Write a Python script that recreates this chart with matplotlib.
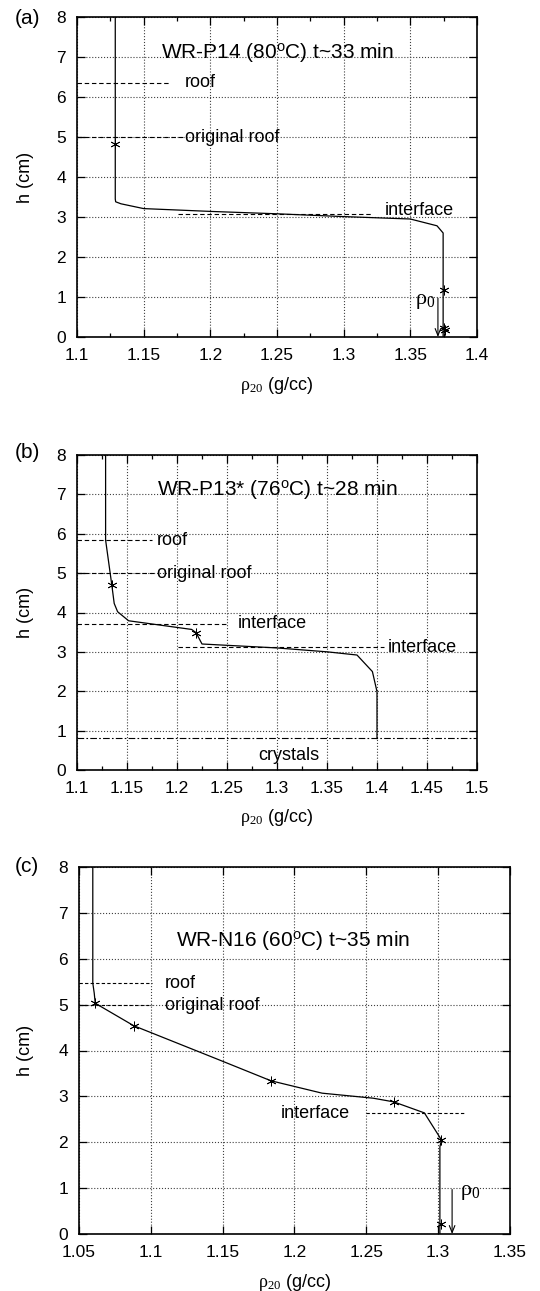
import matplotlib
matplotlib.use("Agg")
import matplotlib.pyplot as plt
from matplotlib.ticker import MultipleLocator

plt.rcParams['font.family'] = ['Liberation Sans', 'DejaVu Sans']
plt.rcParams['mathtext.fontset'] = 'custom'
plt.rcParams['mathtext.rm'] = 'Liberation Serif'
plt.rcParams['mathtext.it'] = 'Liberation Serif:italic'
plt.rcParams['mathtext.sf'] = 'Liberation Sans'

# (a) WR-P14, 80 C, t~33 min
rho_a = [1.1287, 1.1287, 1.129, 1.133, 1.15, 1.2, 1.25, 1.3, 1.35, 1.37, 1.3746, 1.3746]
h_a = [8.0, 3.45, 3.38, 3.33, 3.21, 3.14, 3.08, 3.01, 2.95, 2.78, 2.6, 0.0]
star_rho_a = [1.1287, 1.3754, 1.3752, 1.3758]
star_h_a = [4.82, 1.17, 0.22, 0.17]
roof_a = 6.36
orig_roof_a = 5.0
interface_a = 3.075
rho0_a = 1.3707

# (b) WR-P13*, 76 C, t~28 min
rho_b = [1.1286, 1.1286, 1.1348, 1.1372, 1.1406, 1.1516, 1.2146, 1.219, 1.225,
         1.3, 1.3506, 1.38, 1.3954, 1.4, 1.4]
h_b = [8.0, 5.84, 4.70, 4.23, 4.02, 3.79, 3.57, 3.49, 3.2,
       3.1, 3.0, 2.92, 2.5, 1.99, 0.8]
star_rho_b = [1.1348, 1.219]
star_h_b = [4.70, 3.49]
roof_b = 5.84
orig_roof_b = 5.0
interface1_b = 3.71
interface2_b = 3.12
crystals_b = 0.805

# (c) WR-N16, 60 C, t~35 min
rho_c = [1.0596, 1.0596, 1.0606, 1.0613, 1.0881, 1.148, 1.1836, 1.2192, 1.2548,
         1.2691, 1.2904, 1.3023, 1.3012, 1.3012]
h_c = [8.0, 5.47, 5.25, 5.03, 4.54, 3.79, 3.34, 3.07, 2.96,
       2.88, 2.64, 2.05, 1.9, 0.0]
star_rho_c = [1.0613, 1.0881, 1.1836, 1.2691, 1.3023, 1.302]
star_h_c = [5.03, 4.54, 3.34, 2.88, 2.05, 0.22]
roof_c = 5.47
orig_roof_c = 4.99
interface_c = 2.63
rho0_c = 1.3097

xticks_a = [1.1, 1.15, 1.2, 1.25, 1.3, 1.35, 1.4]
xlabels_a = ['1.1', '1.15', '1.2', '1.25', '1.3', '1.35', '1.4']
xticks_b = [1.1, 1.15, 1.2, 1.25, 1.3, 1.35, 1.4, 1.45, 1.5]
xlabels_b = ['1.1', '1.15', '1.2', '1.25', '1.3', '1.35', '1.4', '1.45', '1.5']
xticks_c = [1.05, 1.1, 1.15, 1.2, 1.25, 1.3, 1.35]
xlabels_c = ['1.05', '1.1', '1.15', '1.2', '1.25', '1.3', '1.35']

STAR = (6, 2, 0)
W, H = 540, 1291


def make_axes(fig, left, top, right, bottom):
    return fig.add_axes([left / W, 1 - bottom / H, (right - left) / W, (bottom - top) / H])


def style_axes(ax, xticks, xlabels, minor, xlab_y, ylab_x):
    ax.set_xlim(xticks[0], xticks[-1])
    ax.set_ylim(0, 8)
    ax.set_xticks(xticks)
    ax.set_xticklabels(xlabels)
    if minor:
        ax.xaxis.set_minor_locator(MultipleLocator(minor))
    ax.set_yticks(range(9))
    ax.tick_params(which='both', direction='in', top=True, right=True,
                   labelsize=12.5, pad=8, width=0.9)
    ax.tick_params(which='major', length=6)
    ax.tick_params(which='minor', length=3)
    ax.set_axisbelow(True)
    ax.grid(which='major', ls=':', color='0.25', lw=0.8)
    for s in ax.spines.values():
        s.set_linewidth(1.2)
    ax.set_xlabel(r'$\mathrm{\rho_{20}}$ (g/cc)', fontsize=13, va='center')
    ax.xaxis.set_label_coords(0.5, xlab_y)
    ax.set_ylabel('h (cm)', fontsize=13, va='center')
    ax.yaxis.set_label_coords(ylab_x, 0.5)


def ref_line(ax, h, x0, x1, **kw):
    ax.plot([x0, x1], [h, h], color='black', lw=0.8, **kw)


def arrow(ax, x, top):
    ax.annotate('', xy=(x, 0), xytext=(x, top),
                arrowprops=dict(arrowstyle='->,head_length=0.5,head_width=0.2',
                                lw=0.8, color='black', shrinkA=0, shrinkB=0))


def stars(ax, x, y):
    ax.plot(x, y, ls='none', marker=STAR, ms=7, mew=0.6, color='black')


fig = plt.figure(figsize=(5.4, 12.91), dpi=100)
dash = dict(dashes=(4, 2.5))

# panel (a)
ax = make_axes(fig, 77, 17, 477, 337)
style_axes(ax, xticks_a, xlabels_a, 0.025, -0.15, -0.1275)
ax.plot(rho_a, h_a, color='black', lw=0.9)
stars(ax, star_rho_a, star_h_a)
ref_line(ax, roof_a, 1.1, 1.170, **dash)
ref_line(ax, orig_roof_a, 1.1, 1.1795, **dash)
ref_line(ax, interface_a, 1.1756, 1.3202, **dash)
ax.text(1.1808, roof_a, 'roof', fontsize=13, va='center')
ax.text(1.1808, orig_roof_a, 'original roof', fontsize=13, va='center')
ax.text(1.3306, interface_a + 0.08, 'interface', fontsize=13, va='center')
arrow(ax, rho0_a, 0.97)
ax.text(1.369, 0.92, r'$\mathrm{\rho_0}$', fontsize=16, va='center', ha='right')
ax.text(1.25, 6.98, r'WR-P14 (80$^{\mathsf{o}}$C) t~33 min', fontsize=15,
        ha='center', va='baseline')
fig.text(15 / W, 1 - 19 / H, '(a)', fontsize=15, va='center')

# panel (b)
ax = make_axes(fig, 77, 455, 477, 770)
style_axes(ax, xticks_b, xlabels_b, 0.025, -0.152, -0.1275)
ax.plot(rho_b, h_b, color='black', lw=0.9)
stars(ax, star_rho_b, star_h_b)
ref_line(ax, roof_b, 1.1, 1.175, **dash)
ref_line(ax, orig_roof_b, 1.1, 1.177, **dash)
ref_line(ax, interface1_b, 1.1, 1.2508, **dash)
ref_line(ax, interface2_b, 1.2009, 1.4074, **dash)
ref_line(ax, crystals_b, 1.1, 1.5, dashes=(6, 2, 1.5, 2))
ax.text(1.18, roof_b, 'roof', fontsize=13, va='center')
ax.text(1.18, orig_roof_b, 'original roof', fontsize=13, va='center')
ax.text(1.261, interface1_b, 'interface', fontsize=13, va='center')
ax.text(1.411, interface2_b, 'interface', fontsize=13, va='center')
ax.text(1.3117, 0.38, 'crystals', fontsize=13, va='center', ha='center')
ax.text(1.3007, 6.98, r'WR-P13* (76$^{\mathsf{o}}$C) t~28 min', fontsize=15,
        ha='center', va='baseline')
fig.text(15 / W, 1 - 452 / H, '(b)', fontsize=15, va='center')

# panel (c)
ax = make_axes(fig, 79, 867, 510, 1234)
style_axes(ax, xticks_c, xlabels_c, None, -0.131, -0.123)
ax.plot(rho_c, h_c, color='black', lw=0.9)
stars(ax, star_rho_c, star_h_c)
ref_line(ax, roof_c, 1.05, 1.1005, dashes=(3, 2))
ref_line(ax, orig_roof_c, 1.05, 1.1005, dashes=(3, 2))
ref_line(ax, interface_c, 1.2501, 1.319, dashes=(3, 2))
ax.text(1.11, roof_c, 'roof', fontsize=13, va='center')
ax.text(1.11, orig_roof_c, 'original roof', fontsize=13, va='center')
ax.text(1.2383, interface_c, 'interface', fontsize=13, va='center', ha='right')
arrow(ax, rho0_c, 0.97)
ax.text(1.3151, 0.92, r'$\mathrm{\rho_0}$', fontsize=16, va='center', ha='left')
ax.text(1.199, 6.27, r'WR-N16 (60$^{\mathsf{o}}$C) t~35 min', fontsize=15,
        ha='center', va='baseline')
fig.text(15 / W, 1 - 867 / H, '(c)', fontsize=15, va='center')

fig.savefig('out.png', dpi=100)
